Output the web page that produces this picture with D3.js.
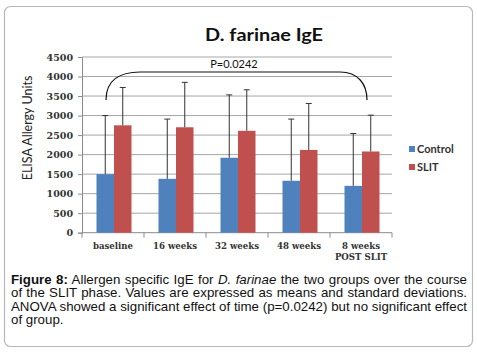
<!DOCTYPE html>
<html>
<head>
<meta charset="utf-8">
<script src="https://cdn.jsdelivr.net/npm/d3@7"></script>
<style>
  body { margin: 0; background: #fff; }
  #wrap { position: relative; width: 477px; height: 353px; }
  #caption {
    position: absolute; left: 11px; top: 273px; width: 456px;
    font-family: "Liberation Sans", Arial, sans-serif; font-size: 13.3px;
    line-height: 13.3px; color: #111;
  }
  #caption .ln { display: block; white-space: nowrap; text-align: justify; text-align-last: justify; }
  #caption .ln.last { text-align-last: left; }
</style>
</head>
<body>
<div id="wrap"></div>
<script>
// chart data
var categories = ["baseline", "16 weeks", "32 weeks", "48 weeks", "8 weeks|POST SLIT"];
var series = ["Control", "SLIT"];
var controlMean = [1500, 1380, 1920, 1330, 1200];
var controlSD = [1500, 1530, 1610, 1580, 1340];
var slitMean = [2750, 2700, 2610, 2120, 2080];
var slitSD = [970, 1150, 1050, 1190, 930];
var yTicks = [0, 500, 1000, 1500, 2000, 2500, 3000, 3500, 4000, 4500];
var colors = {"Control": "#4f81bd", "SLIT": "#c0504d"};

var svg = d3.select("#wrap").append("svg")
    .attr("width", 477).attr("height", 353)
    .style("position", "absolute").style("left", 0).style("top", 0);

// outer frame
svg.append("rect").attr("x", 4.5).attr("y", 6.5).attr("width", 468).attr("height", 340)
    .attr("rx", 6).attr("fill", "none").attr("stroke", "#b8b8b8").attr("stroke-width", 1.2);

var x0 = d3.scaleBand().domain(categories).range([82, 392]);
var x1 = d3.scaleBand().domain(series).range([0, 35]);
var y = d3.scaleLinear().domain([0, 4500]).range([232.7, 57]);

// gridlines
svg.append("g").selectAll("line").data(yTicks.slice(1)).enter().append("line")
    .attr("x1", 82).attr("x2", 392)
    .attr("y1", function (d) { return y(d); }).attr("y2", function (d) { return y(d); })
    .attr("stroke", "#a6a6a6").attr("stroke-width", 1);

// y axis
var yAxis = svg.append("g").attr("transform", "translate(82,0)")
    .call(d3.axisLeft(y).tickValues(yTicks).tickFormat(d3.format("d")).tickSize(4).tickPadding(5));
yAxis.select(".domain").attr("stroke", "#8c8c8c");
yAxis.selectAll(".tick line").attr("stroke", "#8c8c8c");
yAxis.selectAll("text").attr("font-family", "DejaVu Serif").attr("font-weight", "bold")
    .attr("font-size", 9.5).attr("fill", "#333");

// x axis line and boundary ticks
svg.append("line").attr("x1", 82).attr("x2", 392).attr("y1", y(0)).attr("y2", y(0))
    .attr("stroke", "#8c8c8c");
svg.append("g").selectAll("line").data(categories.concat(["end"])).enter().append("line")
    .attr("x1", function (d, i) { return 82 + i * x0.step(); })
    .attr("x2", function (d, i) { return 82 + i * x0.step(); })
    .attr("y1", y(0)).attr("y2", y(0) + 5).attr("stroke", "#8c8c8c");

// bars
var rows = categories.map(function (c, i) {
    return [
        {cat: c, s: "Control", m: controlMean[i], sd: controlSD[i]},
        {cat: c, s: "SLIT", m: slitMean[i], sd: slitSD[i]}
    ];
});
var groups = svg.append("g").selectAll("g").data(rows).enter().append("g")
    .attr("transform", function (d) {
        return "translate(" + (x0(d[0].cat) + x0.bandwidth() / 2 - 16.5) + ",0)";
    });
groups.selectAll("rect").data(function (d) { return d; }).enter().append("rect")
    .attr("x", function (d) { return x1(d.s); })
    .attr("width", x1.bandwidth())
    .attr("y", function (d) { return y(d.m); })
    .attr("height", function (d) { return y(0) - y(d.m); })
    .attr("fill", function (d) { return colors[d.s]; });

// error bars (upper whiskers)
groups.selectAll("line.err").data(function (d) { return d; }).enter().append("line")
    .attr("class", "err")
    .attr("x1", function (d) { return x1(d.s) + x1.bandwidth() / 2; })
    .attr("x2", function (d) { return x1(d.s) + x1.bandwidth() / 2; })
    .attr("y1", function (d) { return y(d.m); })
    .attr("y2", function (d) { return y(d.m + d.sd); })
    .attr("stroke", "#333").attr("stroke-width", 1);
groups.selectAll("line.cap").data(function (d) { return d; }).enter().append("line")
    .attr("class", "cap")
    .attr("x1", function (d) { return x1(d.s) + x1.bandwidth() / 2 - 3; })
    .attr("x2", function (d) { return x1(d.s) + x1.bandwidth() / 2 + 3; })
    .attr("y1", function (d) { return y(d.m + d.sd); })
    .attr("y2", function (d) { return y(d.m + d.sd); })
    .attr("stroke", "#333").attr("stroke-width", 1);

// x labels
var xl = svg.append("g").selectAll("text").data(categories).enter().append("text")
    .attr("x", function (d) { return x0(d) + x0.bandwidth() / 2; })
    .attr("y", 248.5)
    .attr("text-anchor", "middle")
    .attr("font-family", "DejaVu Serif").attr("font-weight", "bold")
    .attr("font-size", 8.6).attr("fill", "#333");
xl.each(function (d) {
    var parts = d.split("|");
    var t = d3.select(this);
    parts.forEach(function (p, i) {
        t.append("tspan").attr("x", t.attr("x")).attr("dy", i ? 11 : 0).text(p);
    });
});

// title
svg.append("text").attr("x", 264).attr("y", 41).attr("text-anchor", "middle")
    .attr("font-family", "Lato").attr("font-weight", "bold").attr("font-size", 16.5)
    .attr("textLength", 118).attr("lengthAdjust", "spacingAndGlyphs")
    .attr("fill", "#111").text("D. farinae IgE");

// y label
svg.append("text").attr("transform", "translate(32,128) rotate(-90)")
    .attr("text-anchor", "middle").attr("font-family", "Lato").attr("font-size", 12.5)
    .attr("fill", "#222").text("ELISA Allergy Units");

// significance bracket
svg.append("path")
    .attr("d", "M106,100 C106,80 120,72 140,72 L340,72 C358,72 367,84 367,100")
    .attr("fill", "none").attr("stroke", "#111").attr("stroke-width", 1.2);
svg.append("text").attr("x", 234).attr("y", 68).attr("text-anchor", "middle")
    .attr("font-family", "Lato").attr("font-size", 11).attr("fill", "#111").text("P=0.0242");

// legend
var leg = svg.append("g").selectAll("g").data(series).enter().append("g")
    .attr("transform", function (d, i) { return "translate(409," + (146 + i * 18) + ")"; });
leg.append("rect").attr("width", 6).attr("height", 6)
    .attr("fill", function (d) { return colors[d]; });
leg.append("text").attr("x", 8).attr("y", 6.5)
    .attr("font-family", "Lato").attr("font-weight", "bold").attr("font-size", 11)
    .attr("fill", "#333").text(function (d) { return d; });

// caption, one justified block per printed line
var captionLines = [
    "<b>Figure 8:</b> Allergen specific IgE for <i>D. farinae</i> the two groups over the course",
    "of the SLIT phase. Values are expressed as means and standard deviations.",
    "ANOVA showed a significant effect of time (p=0.0242) but no significant effect",
    "of group."
];
d3.select("#wrap").append("div").attr("id", "caption")
    .selectAll("span").data(captionLines).enter().append("span")
    .attr("class", function (d, i) { return i === captionLines.length - 1 ? "ln last" : "ln"; })
    .html(function (d) { return d; });
</script>
</body>
</html>
